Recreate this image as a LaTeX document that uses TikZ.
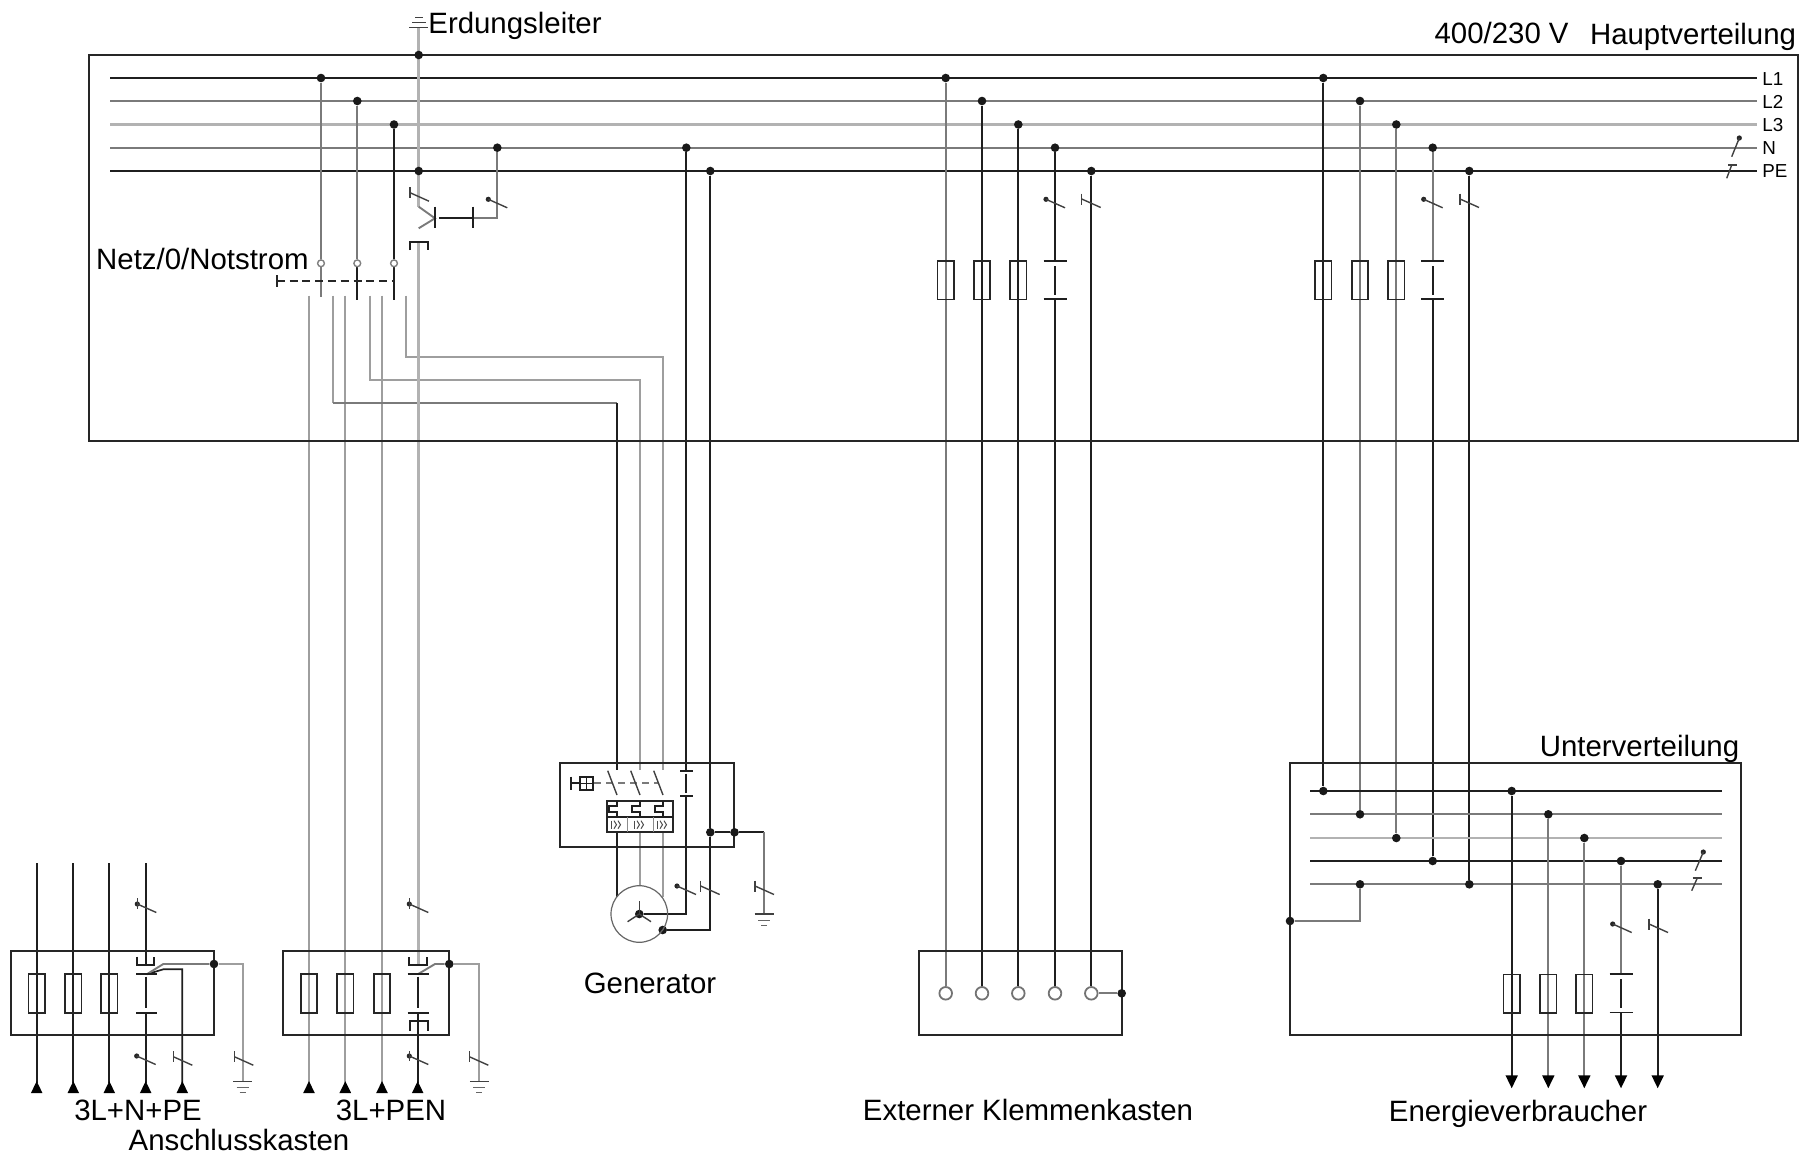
\documentclass[tikz,border=0pt]{standalone}
\usepackage{fontspec}
\setmainfont{Liberation Sans}
\usetikzlibrary{arrows.meta,backgrounds,fit}
\tikzset{
	wblack/.style={black!88,line width=0.85pt},
	wgray/.style={black!52,line width=0.95pt},
	wmed/.style={black!38,line width=1.1pt},
	wlight/.style={black!30,line width=1.4pt},
	symline/.style={black!75,line width=0.7pt},
	tiny/.style={black!45,line width=0.5pt},
	frame/.style={draw=black!85,line width=0.9pt,inner sep=0pt},
	dot/.style={circle,fill=black!90,inner sep=0pt,minimum size=4.3pt},
	opendot/.style={circle,draw=black!50,fill=white,line width=0.7pt,inner sep=0pt,minimum size=3.4pt},
	termdot/.style={circle,draw=black!55,fill=white,line width=0.9pt,inner sep=0pt,minimum size=6.3pt},
	fuse/.style={draw=black!85,line width=0.85pt,inner sep=0pt,minimum width=8.3pt,minimum height=19.2pt},
	lbl/.style={inner sep=0pt,text=black,font=\fontsize{14.7}{17}\selectfont},
	smalllbl/.style={inner sep=0pt,text=black,font=\fontsize{9.4}{11}\selectfont},
	tipin/.style={-{Triangle[reversed,length=6pt,width=5.5pt,color=black]}},
	tipout/.style={-{Triangle[length=6.5pt,width=6pt,color=black]}},
	pics/nmark/.style={code={\fill[black!85] (0,0) circle (2.6); \draw[symline] (0,0)--(19,8.5);}},
	pics/pemark/.style={code={\draw[symline] (0,-5.5)--(0,5.5); \draw[symline] (0,0)--(19,8.5);}},
	pics/capsym/.style={code={\draw[wblack] (-11.5,0)--(11.5,0); \draw[wblack] (-11.5,38.3)--(11.5,38.3); \draw[wblack] (0,5)--(0,34);}},
	pics/earthsym/.style={code={\draw[symline] (-9.5,0)--(9.5,0); \draw[tiny,black!60] (-6,6)--(6,6); \draw[tiny,black!60] (-3,11)--(3,11);}},
	pics/tripsym/.style={code={
		\draw[wblack] (0,0)--(0,5)--(-8,5)--(-8,11)--(0,11)--(0,16);
		\draw[tiny,black!70] (-5.7,20)--(-5.7,28);
		\draw[tiny,black!70] (-3,20)--(-.5,24)--(-3,28);
		\draw[tiny,black!70] (1,20)--(3.5,24)--(1,28);
		\draw[symline] (-9.3,-30)--(0,-5.7);
	}},
}
\begin{document}
\begin{tikzpicture}[x=0.5pt,y=-0.5pt]
	\useasboundingbox (0,0) rectangle (1809,1156);
	% levels
	\coordinate (yL1) at (0,78);
	\coordinate (yL2) at (0,101);
	\coordinate (yL3) at (0,124.5);
	\coordinate (yN) at (0,147.7);
	\coordinate (yPE) at (0,171);
	\coordinate (busW) at (110,0);
	\coordinate (busE) at (1757,0);
	\coordinate (subW) at (1310,0);
	\coordinate (subE) at (1722,0);
	\coordinate (ysL1) at (0,791);
	\coordinate (ysL2) at (0,814.3);
	\coordinate (ysL3) at (0,838);
	\coordinate (ysN) at (0,861);
	\coordinate (ysPE) at (0,884.3);
	% boxes
	\coordinate (mainNW) at (89,54.7);
	\coordinate (mainSE) at (1798,441.3);
	\node[frame,fit=(mainNW)(mainSE)] (mainbox) {};
	\coordinate (genNW) at (560,762.7);
	\coordinate (genSE) at (734.3,846.7);
	\node[frame,fit=(genNW)(genSE)] (genbox) {};
	\coordinate (boxaNW) at (11,950.7);
	\coordinate (boxaSE) at (214,1035);
	\node[frame,fit=(boxaNW)(boxaSE)] (boxa) {};
	\coordinate (boxbNW) at (283.3,950.7);
	\coordinate (boxbSE) at (449.3,1035);
	\node[frame,fit=(boxbNW)(boxbSE)] (boxb) {};
	\coordinate (extNW) at (918.7,951);
	\coordinate (extSE) at (1121.7,1035);
	\node[frame,fit=(extNW)(extSE)] (extbox) {};
	\coordinate (subNW) at (1290,762.7);
	\coordinate (subSE) at (1741,1035);
	\node[frame,fit=(subNW)(subSE)] (subbox) {};
	\node[frame,fill=none,minimum width=32.7pt,minimum height=15.5pt] (tripbox) at (640,816.2) {};
	% junctions
	\node[dot] (tap1) at (321,78) {};
	\node[dot] (tap2) at (357.3,101) {};
	\node[dot] (tap3) at (394,124.5) {};
	\node[dot] (earthTop) at (418.7,55) {};
	\node[dot] (earthPE) at (418.7,171) {};
	\node[dot] (coilN) at (497.3,147.7) {};
	\node[dot] (genN) at (686.3,147.7) {};
	\node[dot] (genPE) at (710.3,171) {};
	\node[dot] (extL1) at (945.7,78) {};
	\node[dot] (extL2) at (982,101) {};
	\node[dot] (extL3) at (1018.3,124.5) {};
	\node[dot] (extN) at (1055,147.7) {};
	\node[dot] (extPE) at (1091.3,171) {};
	\node[dot] (subL1) at (1323.3,78) {};
	\node[dot] (subL2) at (1360,101) {};
	\node[dot] (subL3) at (1396.3,124.5) {};
	\node[dot] (subN) at (1432.7,147.7) {};
	\node[dot] (subPE) at (1469.3,171) {};
	\node[dot] (inL1) at (1323.3,791) {};
	\node[dot] (inL2) at (1360,814.3) {};
	\node[dot] (inL3) at (1396.3,838) {};
	\node[dot] (inN) at (1432.7,861) {};
	\node[dot] (inPE) at (1469.3,884.3) {};
	\node[dot] (inPE2) at (1360,884.3) {};
	\node[dot] (subGnd) at (1290,921) {};
	\node[dot] (outL1) at (1511.7,791) {};
	\node[dot] (outL2) at (1548.3,814.3) {};
	\node[dot] (outL3) at (1584.3,838) {};
	\node[dot] (outN) at (1621,861) {};
	\node[dot] (outPE) at (1657.7,884.3) {};
	\node[dot] (genStar) at (639.3,914) {};
	\node[dot] (genFrame) at (662.7,930) {};
	\node[dot] (genJ1) at (710.3,832.3) {};
	\node[dot] (genJ2) at (734.5,832.3) {};
	\node[dot] (boxaJ) at (214,964) {};
	\node[dot] (boxbJ) at (449.3,964) {};
	\node[dot] (extJ) at (1121.7,993.3) {};
	% switch contacts and terminals
	\node[opendot] (sw1) at (321,263.3) {};
	\node[opendot] (sw2) at (357.3,263.3) {};
	\node[opendot] (sw3) at (394,263.3) {};
	\node[termdot] (term1) at (945.7,993.3) {};
	\node[termdot] (term2) at (982,993.3) {};
	\node[termdot] (term3) at (1018.3,993.3) {};
	\node[termdot] (term4) at (1055,993.3) {};
	\node[termdot] (term5) at (1091.3,993.3) {};
	\node[circle,draw=black!60,line width=0.6pt,inner sep=0pt,minimum size=28.3pt] (gen) at (639.3,914) {};
	% fuses
	\node[fuse] (fe1) at (945.7,280.2) {};
	\node[fuse] (fe2) at (982,280.2) {};
	\node[fuse] (fe3) at (1018.3,280.2) {};
	\node[fuse] (fs1) at (1323.3,280.2) {};
	\node[fuse] (fs2) at (1360,280.2) {};
	\node[fuse] (fs3) at (1396.3,280.2) {};
	\node[fuse] (fo1) at (1511.7,993.8) {};
	\node[fuse] (fo2) at (1548.3,993.8) {};
	\node[fuse] (fo3) at (1584.3,993.8) {};
	\node[fuse] (fa1) at (36.7,993.5) {};
	\node[fuse] (fa2) at (73.3,993.5) {};
	\node[fuse] (fa3) at (109.3,993.5) {};
	\node[fuse] (fb1) at (309,993.5) {};
	\node[fuse] (fb2) at (345.3,993.5) {};
	\node[fuse] (fb3) at (382,993.5) {};
	% wires
	\begin{scope}[on background layer]
	\draw[wblack] (busW |- yL1) -- (busE |- yL1);
	\draw[wgray] (busW |- yL2) -- (busE |- yL2);
	\draw[wlight] (busW |- yL3) -- (busE |- yL3);
	\draw[wgray] (busW |- yN) -- (busE |- yN);
	\draw[wblack] (busW |- yPE) -- (busE |- yPE);
	\draw[wgray] (tap1) -- (sw1);
	\draw[wgray] (sw1) -- (321,296.7);
	\draw[wgray] (tap2) -- (sw2);
	\draw[wblack] (sw2) -- (357.3,300);
	\draw[wblack] (tap3) -- (sw3);
	\draw[wblack] (sw3) -- (394,300);
	\draw[wmed] (309,295.7) -- (309,1093) [tipin];
	\draw[wmed] (345.3,295.7) -- (345.3,1093) [tipin];
	\draw[wmed] (382,295.7) -- (382,1093) [tipin];
	\draw[wmed] (333,295.7) -- (333,403.3);
	\draw[wgray] (333,403.3) -- (617,403.3);
	\draw[wblack] (617,403.3) -- (617,770);
	\draw[wmed] (369.7,295.7) -- (369.7,380) -- (640,380) -- (640,770);
	\draw[wmed] (406,295.7) -- (406,356.7) -- (663,356.7) -- (663,770);
	\draw[wlight] (418.7,27.3) -- (418.7,206.7);
	\draw[wgray] (418.7,206.7) -- (435,218.3) -- (418.7,228.3);
	\draw[wlight] (418.7,242.3) -- (418.7,965);
	\draw[wgray] (coilN) -- (497.3,218.3) -- (473.3,218.3);
	\draw[wblack] (439.3,218.3) -- (473.3,218.3);
	% generator
	\draw[wblack] (genN) -- (686.3,770.7);
	\draw[wblack] (686.3,796) -- (686.3,914) -- (genStar);
	\draw[wblack] (genPE) -- (genJ1);
	\draw[wblack] (genJ1) -- (710.3,930) -- (genFrame);
	\draw[wblack] (genJ1) -- (genJ2);
	\draw[wblack] (genJ2) -- (764,832.3);
	\draw[wgray] (764,832.3) -- (764,914);
	\draw[wblack] (617,832) -- (617,896.7);
	\draw[wmed] (640,832) -- (640,886);
	\draw[wmed] (663,832) -- (663,896.7);
	% outer box wiring
	\draw[wblack] (36.7,863) -- (36.7,1093) [tipin];
	\draw[wblack] (73.3,863) -- (73.3,1093) [tipin];
	\draw[wblack] (109.3,863) -- (109.3,1093) [tipin];
	\draw[wblack] (145.7,863) -- (145.7,965);
	\draw[wblack] (145.7,1012.7) -- (145.7,1093) [tipin];
	\draw[wblack] (146.7,974.3) -- (163.3,969.3) -- (182.3,969.3) -- (182.3,1093) [tipin];
	\draw[wgray] (146.7,974.3) -- (163.3,964) -- (boxaJ);
	\draw[wmed] (boxaJ) -- (242.7,964) -- (242.7,1081.7);
	\draw[wblack] (417.7,1012.7) -- (417.7,1093) [tipin];
	\draw[wgray] (417.7,974.3) -- (435,964) -- (boxbJ);
	\draw[wmed] (boxbJ) -- (479.3,964) -- (479.3,1081.7);
	% external box
	\draw[wgray] (extL1) -- (term1);
	\draw[wblack] (extL2) -- (term2);
	\draw[wblack] (extL3) -- (term3);
	\draw[wblack] (extN) -- (1055,261);
	\draw[wblack] (1055,299.3) -- (term4);
	\draw[wblack] (extPE) -- (term5);
	\draw[wgray] (term5) -- (extJ);
	% sub distribution
	\draw[wblack] (subL1) -- (inL1);
	\draw[wgray] (subL2) -- (inL2);
	\draw[wgray] (subL3) -- (inL3);
	\draw[wgray] (subN) -- (1432.7,261);
	\draw[wblack] (1432.7,299.3) -- (inN);
	\draw[wblack] (subPE) -- (inPE);
	\draw[wblack] (subW |- ysL1) -- (subE |- ysL1);
	\draw[wgray] (subW |- ysL2) -- (subE |- ysL2);
	\draw[wlight] (subW |- ysL3) -- (subE |- ysL3);
	\draw[wblack] (subW |- ysN) -- (subE |- ysN);
	\draw[wgray] (subW |- ysPE) -- (subE |- ysPE);
	\draw[wgray] (subGnd) -- (1360,921) -- (inPE2);
	\draw[wblack] (outL1) -- (1511.7,1088.3) [tipout];
	\draw[wgray] (outL2) -- (1548.3,1088.3) [tipout];
	\draw[wgray] (outL3) -- (1584.3,1088.3) [tipout];
	\draw[wgray] (outN) -- (1621,974.3);
	\draw[wblack] (1621,1012.7) -- (1621,1088.3) [tipout];
	\draw[wblack] (outPE) -- (1657.7,1088.3) [tipout];
	\end{scope}
	% handle and dashed links
	\draw[black!85,line width=0.8pt,dash pattern=on 4pt off 2.4pt] (276.7,280.7) -- (394,280.7);
	\draw[black!85,line width=0.8pt] (276.7,275) -- (276.7,286.7);
	\draw[wgray,dash pattern=on 3.5pt off 2.5pt] (594,783) -- (658,783);
	\draw[wblack] (570.7,776.7) -- (570.7,790);
	\draw[wblack] (570.7,783) -- (580,783);
	\draw[wblack] (580,776.7) rectangle (593.3,790);
	\draw[wblack,line width=0.6pt] (586.7,776.7) -- (586.7,790);
	\draw[wblack,line width=0.6pt] (580,783.3) -- (593.3,783.3);
	% contactor
	\draw[wblack] (435.3,206.7) -- (435.3,228.3);
	\draw[wblack] (473.3,206.7) -- (473.3,228.3);
	\draw[wblack] (410,250) -- (410,242.3) -- (427.7,242.3) -- (427.7,250);
	% earth on top
	\draw[symline] (409.3,27.3) -- (428.3,27.3);
	\draw[symline] (412.3,22.7) -- (425.7,22.7);
	\draw[symline] (415,17.3) -- (423.3,17.3);
	% generator box inner
	\draw[wblack] (607.3,816.7) -- (672.7,816.7);
	\draw[tiny] (627.7,816.7) -- (627.7,832);
	\draw[tiny] (653.3,816.7) -- (653.3,832);
	\pic at (617,800.7) {tripsym};
	\pic at (640,800.7) {tripsym};
	\pic at (663,800.7) {tripsym};
	\draw[wblack] (680,770.7) -- (693,770.7);
	\draw[wblack] (680,796) -- (693,796);
	\draw[wblack] (686.3,773.5) -- (686.3,793);
	% generator star
	\draw[symline] (639.3,914) -- (639.3,901);
	\draw[symline] (639.3,914) -- (627.6,921.7);
	\draw[symline] (639.3,914) -- (651,921.7);
	% box a inner
	\draw[wblack] (137.3,956.7) -- (137.3,965) -- (154.3,965) -- (154.3,956.7);
	\draw[wblack] (136,974.3) -- (157.3,974.3);
	\draw[wblack] (136,1012.7) -- (157.3,1012.7);
	\draw[wblack] (145.7,976.7) -- (145.7,1008);
	% box b inner
	\draw[wblack] (409.3,957.3) -- (409.3,965) -- (427.3,965) -- (427.3,957.3);
	\draw[wblack] (407.7,974.3) -- (429.3,974.3);
	\draw[wblack] (407.7,1012.7) -- (429.3,1012.7);
	\draw[wblack] (417.7,976.7) -- (417.7,1008);
	\draw[wblack] (410,1030.7) -- (410,1021) -- (427.7,1021) -- (427.7,1030.7);
	% mains side marks
	\pic at (410,192.7) {pemark};
	\pic at (488.3,199.3) {nmark};
	\pic at (677,886) {nmark};
	\pic at (700.7,886) {pemark};
	\pic at (755,886) {pemark};
	\pic at (1046,199.3) {nmark};
	\pic at (1081.7,199) {pemark};
	\pic at (1423.7,199.3) {nmark};
	\pic at (1460,199) {pemark};
	\pic at (1612.7,924) {nmark};
	\pic at (1649,924) {pemark};
	\pic at (137.3,904) {nmark};
	\draw[symline] (137.3,898) -- (137.3,909);
	\pic at (136.7,1056) {nmark};
	\pic at (173.3,1056.7) {pemark};
	\pic at (234.3,1056.7) {pemark};
	\pic at (409.3,904) {nmark};
	\draw[symline] (409.3,898) -- (409.3,909);
	\pic at (409.3,1056) {nmark};
	\draw[symline] (409.3,1051) -- (409.3,1061);
	\pic at (469.3,1056.7) {pemark};
	% capacitor like parts
	\pic at (1055,261) {capsym};
	\pic at (1432.7,261) {capsym};
	\pic at (1621,974.3) {capsym};
	% bus end marks
	\fill[black!85] (1739.3,138) circle (2.6);
	\draw[symline] (1739.3,138) -- (1731.7,156.7);
	\draw[symline] (1728.3,165) -- (1737.3,165);
	\draw[symline] (1731.7,165) -- (1726.7,178.3);
	\fill[black!85] (1703.3,852) circle (2.6);
	\draw[symline] (1703.3,852) -- (1695.3,870.7);
	\draw[symline] (1692.7,878) -- (1702,878);
	\draw[symline] (1697.3,878) -- (1691.7,890.7);
	% earth symbols
	\pic at (764,914) {earthsym};
	\pic at (242.7,1081.7) {earthsym};
	\pic at (479.3,1081.7) {earthsym};
	% text
	\node[lbl,anchor=west] (tErd) at (428,25.5) {Erdungsleiter};
	\node[lbl,anchor=east] (tNetz) at (309,259) {Netz/0/Notstrom};
	\node[lbl] (tVolt) at (1501.6,33) {400/230 V};
	\node[lbl] (tHaupt) at (1693,36.5) {Hauptverteilung};
	\node[smalllbl,anchor=west] (tL1) at (1762,79) {L1};
	\node[smalllbl,anchor=west] (tL2) at (1762,102) {L2};
	\node[smalllbl,anchor=west] (tL3) at (1762,125) {L3};
	\node[smalllbl,anchor=west] (tN) at (1762,148) {N};
	\node[smalllbl,anchor=west] (tPE) at (1762,171) {PE};
	\node[lbl] (tUnter) at (1639.5,748.5) {Unterverteilung};
	\node[lbl] (tGen) at (650,983) {Generator};
	\node[lbl] (tTypA) at (138,1110) {3L+N+PE};
	\node[lbl] (tTypB) at (391,1110) {3L+PEN};
	\node[lbl] (tKast) at (239,1140) {Anschlusskasten};
	\node[lbl] (tExt) at (1028,1110) {Externer Klemmenkasten};
	\node[lbl] (tVerb) at (1518,1113.5) {Energieverbraucher};
\end{tikzpicture}
\end{document}
